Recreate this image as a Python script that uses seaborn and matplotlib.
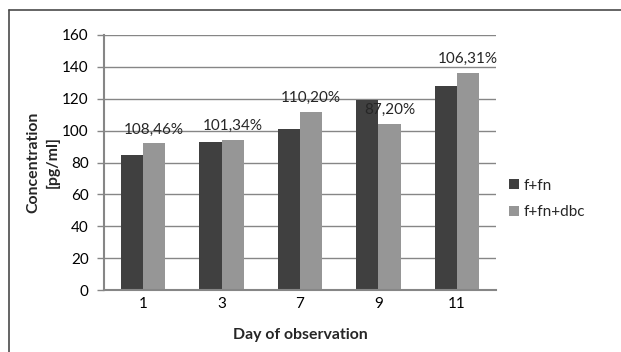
import matplotlib
matplotlib.use("Agg")
import matplotlib.pyplot as plt
from matplotlib.lines import Line2D
from matplotlib.patches import Patch
import seaborn as sns
import pandas as pd

# Concentration per observation day for both groups
days = ["1", "3", "7", "9", "11"]
f_fn = [84.8, 92.8, 101.2, 119.4, 128.3]
f_fn_dbc = [92.0, 94.0, 111.5, 104.1, 136.4]
pct_labels = ["108,46%", "101,34%", "110,20%", "87,20%", "106,31%"]
series = ["f+fn", "f+fn+dbc"]
colors = ["#404040", "#969696"]

df = pd.DataFrame({
    "day": days * 2,
    "value": f_fn + f_fn_dbc,
    "group": [series[0]] * len(days) + [series[1]] * len(days),
})

sns.set_theme(style="white")
plt.rcParams["font.family"] = ["Lato", "DejaVu Sans"]

FS = 11
W, H = 621, 352
fig = plt.figure(figsize=(W / 100, H / 100), dpi=100)
ax = fig.add_axes([104 / W, (H - 290) / H, (496 - 104) / W, (290 - 35) / H])

sns.barplot(data=df, x="day", y="value", hue="group", order=days,
            hue_order=series, palette=colors, width=0.565, gap=0,
            saturation=1, edgecolor="none", legend=False, ax=ax)

ax.set_ylim(0, 160)
ax.set_yticks(range(0, 161, 20))
ax.set_xlim(-0.5, len(days) - 0.5)
ax.yaxis.grid(True, color="#868686", linewidth=1)
ax.set_axisbelow(True)
for side in ("top", "right"):
    ax.spines[side].set_visible(False)
for side in ("left", "bottom"):
    ax.spines[side].set_color("#868686")
    ax.spines[side].set_linewidth(1.5)

ax.tick_params(axis="y", which="major", left=True, length=5, width=1,
               color="#868686", labelsize=FS, pad=6, labelcolor="black")
ax.tick_params(axis="x", bottom=False, length=0, labelsize=FS, pad=5,
               labelcolor="black")

ax.set_xlabel("Day of observation", fontsize=11.4, fontweight="bold",
              labelpad=12)
ax.set_ylabel("Concentration\n[pg/ml]", fontsize=11.4, fontweight="bold",
              labelpad=2, linespacing=1.4)

ax.bar_label(ax.containers[1], labels=pct_labels, padding=5, fontsize=FS)

handles = [Patch(facecolor=c, edgecolor="none") for c in colors]
fig.legend(handles, series, loc="center left",
           bbox_to_anchor=(503 / W, 1 - 199 / H), frameon=False,
           fontsize=FS, handlelength=0.62, handleheight=0.62,
           handletextpad=0.3, labelspacing=0.85, borderaxespad=0)

# Chart frame along the top and left edges
fig.add_artist(Line2D([9 / W, 1], [1 - 10 / H, 1 - 10 / H],
                      transform=fig.transFigure, color="#4a4a4a", lw=1.2))
fig.add_artist(Line2D([9 / W, 9 / W], [0, 1 - 10 / H],
                      transform=fig.transFigure, color="#4a4a4a", lw=1.2))

fig.savefig("out.png", dpi=100)
